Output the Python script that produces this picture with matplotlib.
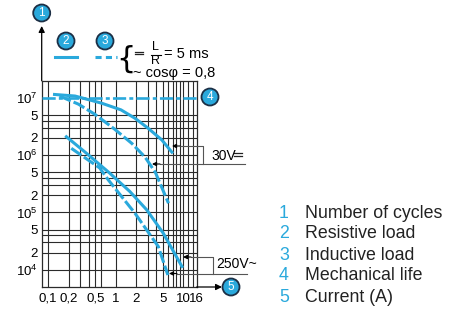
import numpy as np
import matplotlib.pyplot as plt
from matplotlib.patches import Circle
from matplotlib.ticker import NullLocator

plt.rcParams['font.family'] = ['Liberation Sans', 'DejaVu Sans']
plt.rcParams['mathtext.fontset'] = 'custom'
plt.rcParams['mathtext.rm'] = 'Liberation Sans'
plt.rcParams['mathtext.default'] = 'rm'

BLUE = '#2aa9dc'
DARK = '#1c2f45'

# current (A) vs number of cycles
res_dc_x = [0.124, 0.25, 0.62, 1.2, 1.95, 3.05, 4.85, 6.85]
res_dc_y = [1.15e7, 1.08e7, 8.1e6, 6.2e6, 4.4e6, 2.95e6, 1.85e6, 1.13e6]

ind_dc_x = [0.147, 0.28, 0.49, 0.95, 1.75, 2.75, 3.9, 6.1]
ind_dc_y = [1.08e7, 7.8e6, 5.2e6, 2.9e6, 1.6e6, 9.2e5, 5.0e5, 1.45e5]

res_ac_x = [0.186, 0.37, 0.82, 1.63, 2.9, 5.1, 9.66]
res_ac_y = [2.1e6, 1.08e6, 4.85e5, 2.32e5, 1.11e5, 4.35e4, 1.14e4]

ind_ac_x = [0.22, 0.58, 0.78, 1.94, 4.3, 5.97]
ind_ac_y = [1.32e6, 6.0e5, 3.7e5, 9.7e4, 2.55e4, 8.1e3]

mech_x = [0.08, 16]
mech_y = [1e7, 1e7]

x_grid = [0.1, 0.2, 0.3, 0.4, 0.5, 0.6, 1, 2, 3, 4, 5, 6, 7, 8, 9, 10, 12, 14]
x_ticks = [0.1, 0.2, 0.5, 1, 2, 5, 10, 16]
x_labels = ['0,1', '0,2', '0,5', '1', '2', '5', '10', '16']
y_ticks = [1e4, 2e4, 5e4, 1e5, 2e5, 5e5, 1e6, 2e6, 5e6, 1e7]
y_labels = ['$10^4$', '2', '5', '$10^5$', '2', '5', '$10^6$', '2', '5', '$10^7$']

legend_nums = ['1', '2', '3', '4', '5']
legend_texts = ['Number of cycles', 'Resistive load', 'Inductive load',
                'Mechanical life', 'Current (A)']

W, H = 465, 314
fig = plt.figure(figsize=(W / 100, H / 100), dpi=100)
ax = fig.add_axes([41.7 / W, 1 - 287 / H, 155 / W, 206.3 / H])
ax.set_xscale('log')
ax.set_yscale('log')
ax.set_xlim(0.08, 16)
ax.set_ylim(5e3, 2e7)

# grid
for v in x_grid:
    ax.axvline(v, color='#2b2b2b', lw=0.8, zorder=1)
y_grid = []
for k in range(3, 7):
    for m in [1, 2, 3, 4, 5]:
        v = m * 10 ** k
        if 5e3 < v < 2e7:
            y_grid.append(v)
for v in y_grid:
    ax.axhline(v, color='#2b2b2b', lw=0.8, zorder=1)

ax.set_xticks(x_ticks, x_labels)
ax.set_yticks(y_ticks, y_labels)
ax.xaxis.set_minor_locator(NullLocator())
ax.yaxis.set_minor_locator(NullLocator())
ax.tick_params(length=0, labelsize=9.5, pad=3)
ax.tick_params(axis='x', pad=4)
for s in ax.spines.values():
    s.set_color('#2b2b2b')
    s.set_linewidth(0.9)

# curves
ax.plot(mech_x, mech_y, color=BLUE, lw=1.9, ls=(0, (5, 1.2, 1.5, 1.2)), zorder=3)
ax.plot(res_dc_x, res_dc_y, color=BLUE, lw=2.2, zorder=4)
ax.plot(ind_dc_x, ind_dc_y, color=BLUE, lw=2.2, ls=(0, (4, 1)), zorder=4)
ax.plot(res_ac_x, res_ac_y, color=BLUE, lw=2.2, zorder=4)
ax.plot(ind_ac_x, ind_ac_y, color=BLUE, lw=2.2, ls=(0, (4, 1)), zorder=4)

# overlay in pixel coordinates for the decorations
ov = fig.add_axes([0, 0, 1, 1], zorder=5)
ov.set_xlim(0, W)
ov.set_ylim(H, 0)
ov.axis('off')


def badge(x, y, txt):
    ov.add_patch(Circle((x, y), 8.5, facecolor=BLUE, edgecolor=DARK, lw=1.3))
    ov.text(x, y + 0.5, txt, color='white', fontsize=8.5, ha='center', va='center')


def arrow(x0, y0, x1, y1, lw=0.9, ms=7):
    ov.annotate('', xy=(x1, y1), xytext=(x0, y0),
                arrowprops=dict(arrowstyle='-|>', color='black', lw=lw,
                                mutation_scale=ms, shrinkA=0, shrinkB=0))


def dc_sign(x, y, w=8):
    # direct-current sign: solid bar over a dashed bar
    ov.plot([x, x + w], [y, y], color='#222222', lw=0.9)
    seg = w / 5
    for j in range(3):
        ov.plot([x + 2 * j * seg, x + (2 * j + 1) * seg], [y + 2.6, y + 2.6],
                color='#222222', lw=0.9)


# axis arrows and badges
arrow(41.7, 80.7, 41.7, 26, lw=0.9, ms=9)
badge(41.7, 13, '1')
arrow(196.7, 287, 222, 287, lw=0.9, ms=9)
badge(231, 287, '5')
badge(210, 97, '4')

# line-style key
badge(66, 41, '2')
badge(105, 41, '3')
ov.plot([55, 77], [56.5, 56.5], color=BLUE, lw=2.2)
ov.plot([95, 117], [56.5, 56.5], color=BLUE, lw=2.2, ls=(0, (2, 1.4)))
ov.text(126, 59, '{', fontsize=22, ha='center', va='center',
        family='DejaVu Sans', color='black')
dc_sign(135, 51.5, 8)
ov.text(155.5, 47.5, 'L', fontsize=9, ha='center', va='center')
ov.plot([150.5, 160.5], [54.5, 54.5], color='black', lw=0.8)
ov.text(155.5, 60.5, 'R', fontsize=9, ha='center', va='center')
ov.text(164, 54, '= 5 ms', fontsize=10.5, ha='left', va='center')
ov.text(133, 73, '~ cosφ = 0,8', fontsize=10.5, ha='left', va='center')

# 30V DC bracket
arrow(180, 146, 172, 146, lw=0.8, ms=6)
ov.plot([180, 203.3, 203.3], [146, 146, 164], color='#555555', lw=0.8)
arrow(160, 164, 152, 164, lw=0.8, ms=6)
ov.plot([160, 245], [164, 164], color='#555555', lw=0.8)
ov.text(211, 156, '30V', fontsize=10, ha='left', va='center')
dc_sign(234, 153, 8)

# 250V AC bracket
arrow(191, 257, 183, 257, lw=0.8, ms=6)
ov.plot([191, 213.3, 213.3], [257, 257, 273.5], color='#555555', lw=0.8)
arrow(177, 273.5, 169, 273.5, lw=0.8, ms=6)
ov.plot([177, 247], [273.5, 273.5], color='#555555', lw=0.8)
ov.text(216, 264.5, '250V~', fontsize=10, ha='left', va='center')

# numbered legend
for i, (n, t) in enumerate(zip(legend_nums, legend_texts)):
    y = 213 + i * 21
    ov.text(284, y, n, color=BLUE, fontsize=12.8, ha='center', va='center')
    ov.text(305, y, t, color='#222222', fontsize=12.8, ha='left', va='center')

fig.savefig('out.png', dpi=100, facecolor='white')
